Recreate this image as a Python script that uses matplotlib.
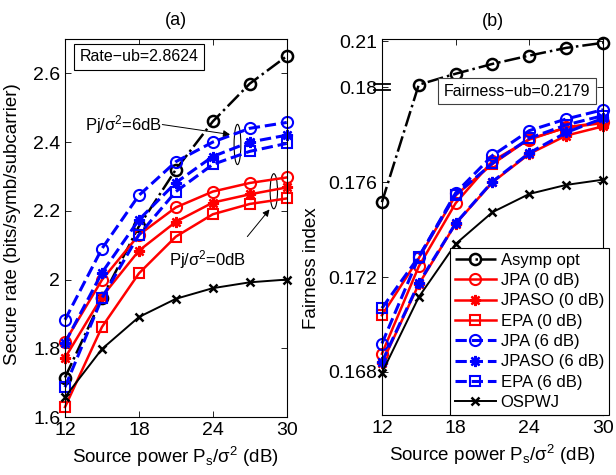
import matplotlib
matplotlib.use('Agg')
import matplotlib.pyplot as plt
import numpy as np
from matplotlib.patches import Ellipse
import matplotlib.transforms as mtransforms

plt.rcParams['font.family'] = ['Liberation Sans', 'DejaVu Sans']
plt.rcParams['mathtext.fontset'] = 'custom'
plt.rcParams['mathtext.rm'] = 'Liberation Sans'
plt.rcParams['mathtext.it'] = 'Liberation Sans:italic'

# source power (dB)
snr = [12, 15, 18, 21, 24, 27, 30]

# (a) secure rate
rate_asymp = [1.715, 1.945, 2.155, 2.32, 2.46, 2.57, 2.65]
rate_jpa0 = [1.819, 1.999, 2.13, 2.21, 2.256, 2.281, 2.297]
rate_jpaso0 = [1.772, 1.95, 2.084, 2.168, 2.224, 2.248, 2.268]
rate_epa0 = [1.629, 1.862, 2.018, 2.125, 2.19, 2.22, 2.236]
rate_jpa6 = [1.883, 2.09, 2.245, 2.343, 2.40, 2.44, 2.457]
rate_jpaso6 = [1.816, 2.02, 2.174, 2.282, 2.358, 2.40, 2.42]
rate_epa6 = [1.687, 1.946, 2.13, 2.256, 2.335, 2.373, 2.396]
rate_ospwj = [1.658, 1.798, 1.891, 1.944, 1.975, 1.992, 2.0]

# (b) fairness index
fair_asymp = [0.17516, 0.1818, 0.1889, 0.1953, 0.2007, 0.2057, 0.209]
fair_jpa0 = [0.16877, 0.17245, 0.17512, 0.1769, 0.1778, 0.17832, 0.17853]
fair_jpaso0 = [0.16837, 0.1717, 0.17425, 0.1760, 0.1772, 0.17797, 0.17836]
fair_epa0 = [0.17039, 0.1728, 0.17545, 0.17677, 0.17783, 0.1783, 0.1785]
fair_jpa6 = [0.1692, 0.17284, 0.17555, 0.17713, 0.17818, 0.17867, 0.17906]
fair_jpaso6 = [0.16842, 0.17175, 0.17427, 0.17603, 0.17724, 0.1781, 0.1787]
fair_epa6 = [0.17069, 0.17286, 0.17548, 0.1768, 0.17786, 0.17842, 0.17881]
fair_ospwj = [0.16796, 0.17116, 0.1734, 0.17474, 0.17551, 0.17589, 0.17611]

labels = ['Asymp opt', 'JPA (0 dB)', 'JPASO (0 dB)', 'EPA (0 dB)',
          'JPA (6 dB)', 'JPASO (6 dB)', 'EPA (6 dB)', 'OSPWJ']
fair_ticks = [0.168, 0.172, 0.176, 0.18, 0.21]
fair_ticklabels = ['0.168', '0.172', '0.176', '0.18', '0.21']

star = (8, 2, 0)
styles = [
    dict(color='k', ls='-.', marker='o', mfc='none', ms=8, lw=1.8, mew=1.8),
    dict(color='r', ls='-', marker='o', mfc='none', ms=8, lw=1.8, mew=1.5),
    dict(color='r', ls='-', marker=star, ms=8, lw=1.8, mew=1.7),
    dict(color='r', ls='-', marker='s', mfc='none', ms=7, lw=1.8, mew=1.5),
    dict(color='b', ls='--', marker='o', mfc='none', ms=8, lw=2.2, mew=1.5),
    dict(color='b', ls='--', marker=star, ms=8, lw=2.2, mew=1.7),
    dict(color='b', ls='--', marker='s', mfc='none', ms=7, lw=2.2, mew=1.5),
    dict(color='k', ls='-', marker='x', ms=6, lw=1.4, mew=1.8),
]

fig = plt.figure(figsize=(6.16, 4.75), dpi=100)
ax1 = fig.add_axes([0.1055, 0.122, 0.360, 0.796])
ax2 = fig.add_axes([0.620, 0.126, 0.359, 0.791])


def style_axes(ax):
    ax.tick_params(direction='in', top=True, right=True, length=4,
                   labelsize=14, width=0.6)
    for s in ax.spines.values():
        s.set_linewidth(0.8)


# ---- (a)
rates = [rate_asymp, rate_jpa0, rate_jpaso0, rate_epa0,
         rate_jpa6, rate_jpaso6, rate_epa6, rate_ospwj]
for y, st, lab in zip(rates, styles, labels):
    ax1.plot(snr, y, label=lab, clip_on=False, **st)
ax1.set_xlim(12, 30)
ax1.set_ylim(1.6, 2.7)
ax1.set_xticks([12, 18, 24, 30])
ax1.set_yticks([1.6, 1.8, 2.0, 2.2, 2.4, 2.6])
ax1.set_yticklabels(['1.6', '1.8', '2', '2.2', '2.4', '2.6'])
style_axes(ax1)
ax1.set_title('(a)', fontsize=13, pad=10)
ax1.set_xlabel(r'Source power P$_\mathregular{s}$/$\mathregular{\sigma^2}$ (dB)', fontsize=13.5)
ax1.set_ylabel('Secure rate (bits/symb/subcarrier)', fontsize=13.5)
ax1.yaxis.set_label_coords(-0.20, 0.51)
ax1.text(0.335, 0.953, 'Rate\u2212ub=2.8624', transform=ax1.transAxes,
         ha='center', va='center', fontsize=11.5,
         bbox=dict(boxstyle='square,pad=0.35', fc='w', ec='k', lw=0.8))

ax1.add_patch(Ellipse((26.0, 2.393), 0.55, 0.117, fc='none', ec='k', lw=0.8))
ax1.add_patch(Ellipse((28.95, 2.257), 0.6, 0.102, fc='none', ec='k', lw=0.8))
ax1.text(16.75, 2.451, r'Pj/$\mathregular{\sigma^2}$=6dB', ha='center',
         va='center', fontsize=12)
ax1.annotate('', xy=(25.4, 2.422), xytext=(19.9, 2.451),
             arrowprops=dict(arrowstyle='-|>', color='k', lw=0.7,
                             mutation_scale=10, shrinkA=0, shrinkB=0))
ax1.text(23.55, 2.058, r'Pj/$\mathregular{\sigma^2}$=0dB', ha='center',
         va='center', fontsize=12)
ax1.annotate('', xy=(28.6, 2.204), xytext=(26.8, 2.125),
             arrowprops=dict(arrowstyle='-|>', color='k', lw=0.7,
                             mutation_scale=10, shrinkA=0, shrinkB=0))

# ---- (b) broken y axis above 0.18
k = 0.0649


def fwd(y):
    y = np.asarray(y, dtype=float)
    return np.where(y <= 0.18, y, 0.18 + (y - 0.18) * k)


def inv(u):
    u = np.asarray(u, dtype=float)
    return np.where(u <= 0.18, u, 0.18 + (u - 0.18) / k)


ax2.set_yscale('function', functions=(fwd, inv))
fairs = [fair_asymp, fair_jpa0, fair_jpaso0, fair_epa0,
         fair_jpa6, fair_jpaso6, fair_epa6, fair_ospwj]
for y, st, lab in zip(fairs, styles, labels):
    ax2.plot(snr, y, label=lab, clip_on=False, **st)
ax2.set_xlim(12, 30)
ax2.set_ylim(0.16618, 0.2112)
ax2.set_xticks([12, 18, 24, 30])
ax2.set_yticks(fair_ticks)
ax2.set_yticklabels(fair_ticklabels)
ax2.yaxis.set_minor_locator(matplotlib.ticker.NullLocator())
style_axes(ax2)
ax2.set_title('(b)', fontsize=13, pad=10)
ax2.set_xlabel(r'Source power P$_\mathregular{s}$/$\mathregular{\sigma^2}$ (dB)', fontsize=13.5)
ax2.set_ylabel('Fairness index', fontsize=13.5)
ax2.yaxis.set_label_coords(-0.28, 0.39)

# break mark
for dy in (-3, 3):
    off = mtransforms.ScaledTranslation(0, dy / 100, fig.dpi_scale_trans)
    ax2.plot([-0.035, 0.035], [0.18, 0.18], color='k', lw=1.3,
             transform=ax2.get_yaxis_transform() + off, clip_on=False)

ax2.text(0.611, 0.862, 'Fairness\u2212ub=0.2179', transform=ax2.transAxes,
         ha='center', va='center', fontsize=11.5,
         bbox=dict(boxstyle='square,pad=0.35', fc='w', ec='0.25', lw=0.8))

leg = ax2.legend(loc='lower right', bbox_to_anchor=(1.027, 0.0), fontsize=12,
                 fancybox=False, framealpha=1, edgecolor='k',
                 handlelength=2.45, labelspacing=0.32, borderpad=0.3,
                 handletextpad=0.3, borderaxespad=0)
leg.get_frame().set_linewidth(0.8)

fig.savefig('out.png', dpi=100)
